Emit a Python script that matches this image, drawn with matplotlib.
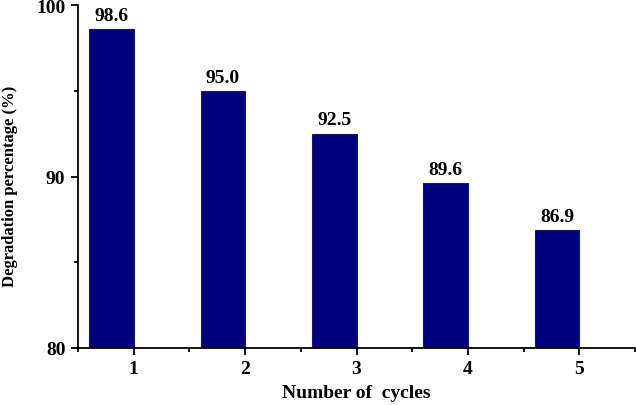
import numpy as np
import matplotlib.pyplot as plt
from matplotlib.ticker import MultipleLocator

# Data
cycles = [1, 2, 3, 4, 5]
degradation = [98.6, 95.0, 92.5, 89.6, 86.9]
bar_labels = ['98.6', '95.0', '92.5', '89.6', '86.9']

plt.rcParams['font.family'] = ['Liberation Serif', 'DejaVu Serif']
plt.rcParams['font.weight'] = 'bold'

fig = plt.figure(figsize=(6.36, 4.06), dpi=100)
ax = fig.add_axes([0.1226, 0.1404, 0.876, 0.8448])

x = np.array(cycles, dtype=float)
# bars sit just left of each tick
ax.bar(x - 0.2, degradation, width=0.4, color='#00007f',
       edgecolor='#1a1a60', linewidth=0.8, bottom=0)

for xi, yi, lab in zip(x, degradation, bar_labels):
    ax.text(xi - 0.2, yi + 0.3, lab, ha='center', va='bottom',
            fontsize=14, fontweight='bold')

ax.set_xlim(0.5, 5.5)
ax.set_ylim(80, 100)
ax.set_xticks(cycles)
ax.xaxis.set_minor_locator(MultipleLocator(0.5))
ax.yaxis.set_major_locator(MultipleLocator(10))
ax.yaxis.set_minor_locator(MultipleLocator(5))

for pos in ['top', 'right']:
    ax.spines[pos].set_visible(False)
for pos in ['left', 'bottom']:
    ax.spines[pos].set_linewidth(1.3)

ax.tick_params(axis='both', which='major', length=5, width=1.3,
               labelsize=14, pad=4)
ax.tick_params(axis='both', which='minor', length=3, width=1.3)
for lab in ax.get_xticklabels() + ax.get_yticklabels():
    lab.set_fontweight('bold')

ax.set_xlabel('Number of  cycles', fontsize=14, fontweight='bold')
ax.xaxis.set_label_coords(0.5, -0.143)
ax.xaxis.label.set_va('baseline')
ax.set_ylabel('Degradation percentage (%)', fontsize=12, fontweight='bold')
ax.yaxis.set_label_coords(-0.108, 0.475)

fig.savefig('out.png', dpi=100)
